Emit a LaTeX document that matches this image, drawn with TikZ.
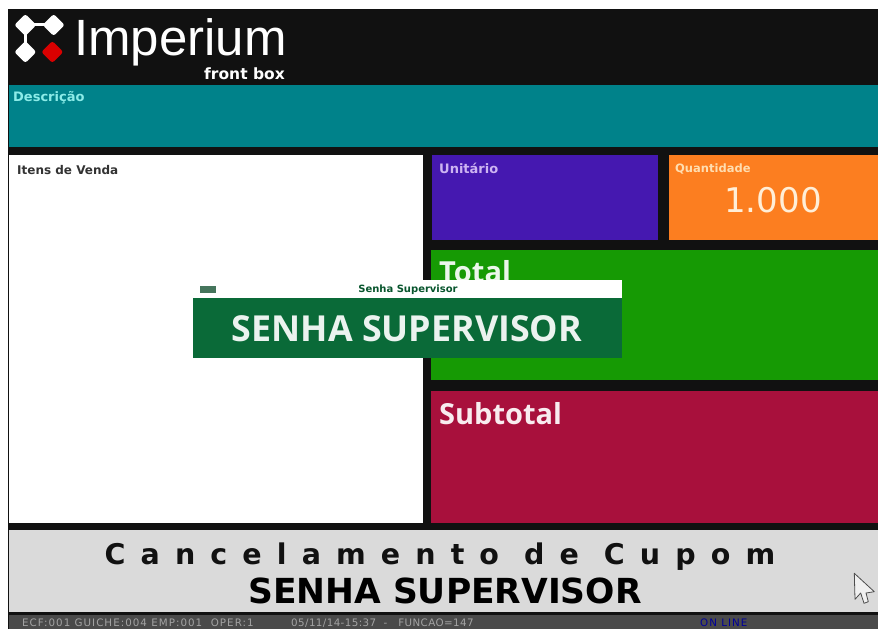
\documentclass[tikz,border=0pt]{standalone}
\usepackage{fontspec}
\setmainfont{DejaVu Sans}
\newfontfamily\osans{Open Sans}
\newfontfamily\lsans{Liberation Sans}
\definecolor{hdr}{HTML}{111111}
\definecolor{teal1}{HTML}{00828A}
\definecolor{viol}{HTML}{4518B0}
\definecolor{oran}{HTML}{FC7E20}
\definecolor{grn}{HTML}{169A04}
\definecolor{crim}{HTML}{A8103C}
\definecolor{dlg}{HTML}{0A6A38}
\definecolor{gry}{HTML}{DADADA}
\definecolor{bar}{HTML}{4A4A4A}
\definecolor{lteal}{HTML}{8CECE8}
\definecolor{lviol}{HTML}{CDB4F2}
\definecolor{loran}{HTML}{FFDDB0}
\tikzset{
  lbl/.style={inner sep=0pt,anchor=base west,font=\bfseries\fontsize{#1}{#1}\selectfont},
  stat/.style={inner sep=0pt,anchor=base west,text=gry!75!black,font=\fontsize{10.3}{10.3}\addfontfeature{LetterSpace=#1}\selectfont},
  diam/.style={rounded corners=2.5pt},
}
\begin{document}
\begin{tikzpicture}[x=1pt,y=-1pt]
\useasboundingbox (0,0) rectangle (878,629);
\fill[white] (0,0) rectangle (878,629);
\fill[hdr] (8,9) rectangle (878,629);
% panels
\fill[teal1] (9,85) rectangle (878,147);
\fill[white] (9,155) rectangle (423,523);
\fill[viol] (432,155) rectangle (658,240);
\fill[oran] (669,155) rectangle (878,240);
\fill[grn] (431,250) rectangle (878,380);
\fill[crim] (431,391) rectangle (878,523);
\fill[gry] (9,530) rectangle (878,612);
\fill[bar] (9,615) rectangle (878,629);
% logo
\fill[white,diam] (25.3,14) -- (36.3,25) -- (25.3,36) -- (14.3,25) -- cycle;
\fill[white,diam] (53.7,14) -- (64.7,25) -- (53.7,36) -- (42.7,25) -- cycle;
\fill[white,diam] (25.3,41) -- (36.3,52) -- (25.3,63) -- (14.3,52) -- cycle;
\fill[white] (25,22.5) rectangle (54,25.5);
\fill[white] (23.5,25) rectangle (27,52);
\fill[red!85!black,diam] (52.3,41) -- (63.3,52) -- (52.3,63) -- (41.3,52) -- cycle;
\node[inner sep=0pt,anchor=base west,text=white] (logo) at (74,55) {\lsans\fontsize{51}{51}\selectfont Imperium};
\node[inner sep=0pt,anchor=base east,text=white] (front) at (285,79) {\bfseries\fontsize{15.5}{16}\selectfont front box};
% labels
\node[lbl=13,text=lteal] (desc) at (13,101) {Descrição};
\node[lbl=12,text=black!80] (itens) at (17,174) {Itens de Venda};
\node[lbl=13,text=lviol] (unit) at (439,173) {Unitário};
\node[lbl=11.5,text=loran] (quant) at (675,172) {Quantidade};
\node[inner sep=0pt,anchor=base,text=loran!50!white] (qv) at (773,212) {\fontsize{34}{34}\selectfont 1.000};
\node[inner sep=0pt,anchor=base west,text=white!92!grn] (total) at (439,282) {\osans\bfseries\fontsize{29}{29}\selectfont Total};
\node[inner sep=0pt,anchor=base west,text=white!92!crim] (sub) at (439,424) {\osans\bfseries\fontsize{29}{29}\selectfont Subtotal};
% dialog
\fill[white] (193,280) rectangle (622,298);
\fill[dlg] (193,298) rectangle (622,358);
\fill[dlg!50!gray] (200,286) rectangle (216,293);
\node[inner sep=0pt,anchor=base,text=dlg!80!black] (dt) at (408,292) {\bfseries\fontsize{10}{10}\selectfont Senha Supervisor};
\node[inner sep=0pt,anchor=base,text=white!92!dlg] (dm) at (407,341) {\osans\bfseries\fontsize{35.8}{36}\selectfont SENHA SUPERVISOR};
% bottom
\node[inner sep=0pt,anchor=base,text=hdr] (canc) at (440,564) {\bfseries\fontsize{28.5}{29}\addfontfeature{LetterSpace=53}\selectfont Cancelamento de Cupom};
\node[inner sep=0pt,anchor=base,text=black] (senha) at (445,603) {\bfseries\fontsize{34.5}{35}\selectfont SENHA SUPERVISOR};
\node[stat=10] (st) at (22,626) {ECF:001 GUICHE:004 EMP:001 \ OPER:1};
\node[stat=4] (st2) at (291,626) {05/11/14-15:37 \ - \ \ FUNCAO=147};
\node[stat=10,text=blue!60!black] (on) at (700,626) {ON LINE};
% pointer
\draw[fill=gry!40!white,draw=black!70,line width=.8pt,line join=round] (854.3,573.3) -- (855,599.3) -- (860.7,593) -- (864,603.3) -- (868.3,601.7) -- (866,593) -- (874.3,591.7) -- cycle;
\end{tikzpicture}
\end{document}
